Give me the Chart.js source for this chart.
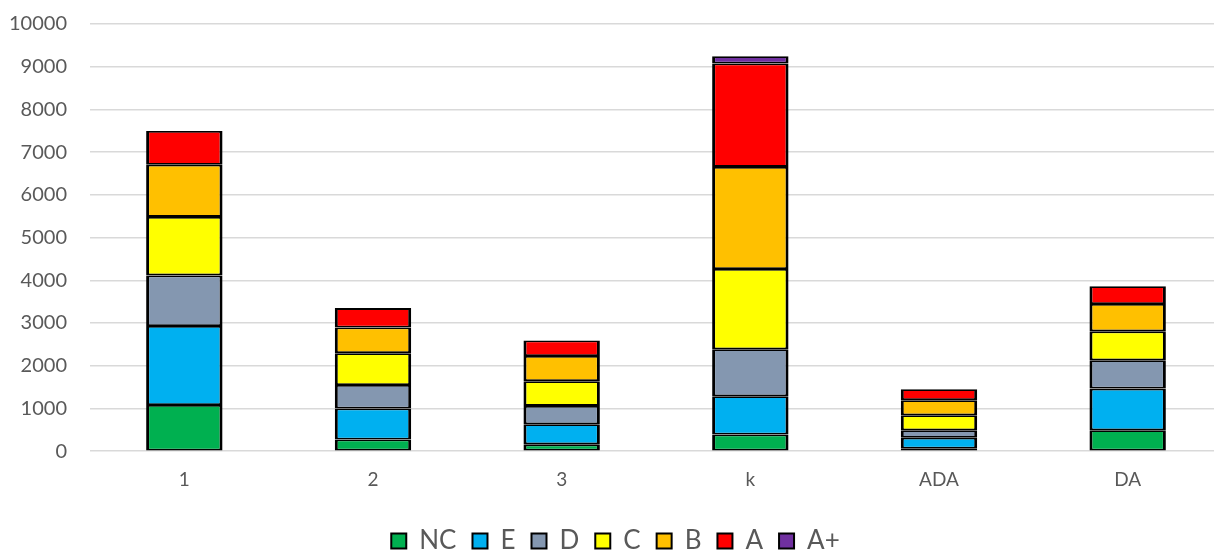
<!DOCTYPE html>
<html>
<head>
<meta charset="utf-8">
<script src="https://cdn.jsdelivr.net/npm/chart.js@4"></script>
<style>
html,body{margin:0;padding:0;background:#fff;overflow:hidden;}
#wrap{position:relative;width:1222px;height:552px;}
</style>
</head>
<body>
<div id="wrap"><canvas id="c"></canvas></div>
<script>
const categories = ['1', '2', '3', 'k', 'ADA', 'DA'];
const seriesNames = ['NC', 'E', 'D', 'C', 'B', 'A', 'A+'];
const NC = [1080, 275, 160, 390, 60, 490];
const E  = [1850, 725, 470, 895, 255, 975];
const D  = [1185, 550, 430, 1100, 175, 665];
const C  = [1370, 745, 580, 1880, 350, 675];
const B  = [1220, 600, 590, 2390, 355, 640];
const A  = [790, 455, 360, 2420, 255, 415];
const Aplus = [0, 0, 0, 170, 0, 0];
const yTicks = [0, 1000, 2000, 3000, 4000, 5000, 6000, 7000, 8000, 9000, 10000];

const seriesValues = [NC, E, D, C, B, A, Aplus];
const colors = ['#00B050', '#00B0F0', '#8497B0', '#FFFF00', '#FFC000', '#FF0000', '#7030A0'];

const datasets = seriesNames.map((name, i) => ({
  label: name,
  data: seriesValues[i],
  backgroundColor: colors[i],
  borderColor: '#000000',
  borderWidth: {top: 1.8, bottom: 1.8, left: 3, right: 3},
  borderSkipped: false,
  categoryPercentage: 1.0,
  barPercentage: 0.405
}));

const font = "Lato, 'Open Sans', sans-serif";

new Chart(document.getElementById('c'), {
  type: 'bar',
  data: { labels: categories, datasets: datasets },
  options: {
    responsive: true,
    maintainAspectRatio: false,
    animation: false,
    layout: { padding: { top: 24, left: 9, right: 0, bottom: -12 } },
    plugins: {
      tooltip: { enabled: false },
      legend: {
        position: 'bottom',
        labels: {
          color: '#595959',
          font: { family: font, size: 26 },
          boxWidth: 15,
          boxHeight: 15,
          padding: 16,
          useBorderRadius: false,
          generateLabels(chart) {
            return chart.data.datasets.map((ds, i) => ({
              text: ds.label,
              fillStyle: ds.backgroundColor,
              strokeStyle: '#000000',
              lineWidth: 2,
              hidden: false,
              datasetIndex: i,
              fontColor: '#595959'
            }));
          }
        }
      }
    },
    scales: {
      x: {
        stacked: true,
        grid: { display: false },
        border: { display: false },
        ticks: { color: '#595959', font: { family: font, size: 19 }, padding: 9 },
        afterFit(scale) {
          scale.paddingLeft = 0;
          scale.paddingRight = 0;
          scale.height += 12;
        }
      },
      y: {
        stacked: true,
        min: 0,
        max: 10000,
        afterBuildTicks(axis) { axis.ticks = yTicks.map(v => ({ value: v })); },
        grid: { color: '#D9D9D9', lineWidth: 1.5, drawTicks: false },
        border: { display: false },
        ticks: { color: '#595959', font: { family: font, size: 20 }, padding: 23,
                 callback: v => String(v) },
        afterFit(scale) {
          scale.paddingTop = 0;
          scale.paddingBottom = 0;
          scale.width -= 23;
        }
      }
    }
  }
});
</script>
</body>
</html>
